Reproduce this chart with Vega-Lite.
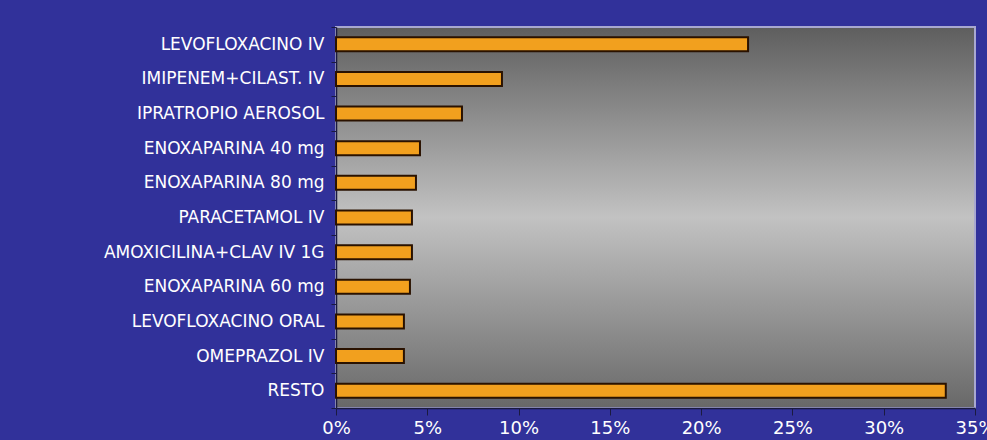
{
  "$schema": "https://vega.github.io/schema/vega-lite/v6.json",
  "width": 639,
  "height": 381,
  "autosize": {"type": "none"},
  "padding": {"left": 336, "top": 27, "right": 12, "bottom": 32},
  "background": "#31319A",
  "data": {
    "values": [
      {"farmaco": "LEVOFLOXACINO IV", "pct": 0.2257},
      {"farmaco": "IMIPENEM+CILAST. IV", "pct": 0.0909},
      {"farmaco": "IPRATROPIO AEROSOL", "pct": 0.069},
      {"farmaco": "ENOXAPARINA 40 mg", "pct": 0.046},
      {"farmaco": "ENOXAPARINA 80 mg", "pct": 0.0438},
      {"farmaco": "PARACETAMOL IV", "pct": 0.0416},
      {"farmaco": "AMOXICILINA+CLAV IV 1G", "pct": 0.0416},
      {"farmaco": "ENOXAPARINA 60 mg", "pct": 0.0405},
      {"farmaco": "LEVOFLOXACINO ORAL", "pct": 0.0372},
      {"farmaco": "OMEPRAZOL IV", "pct": 0.0372},
      {"farmaco": "RESTO", "pct": 0.334}
    ]
  },
  "mark": {"type": "bar", "color": "#F2A01E", "stroke": "#2A1200", "strokeWidth": 2, "height": 14},
  "encoding": {
    "y": {
      "field": "farmaco", "type": "nominal", "sort": null, "title": null,
      "scale": {"paddingInner": 0, "paddingOuter": 0},
      "axis": {"tickBand": "extent", "tickSize": 5, "labelPadding": 7, "labelLimit": 0, "labelFontSize": 17, "labelColor": "#FFFFFF", "labelFont": "DejaVu Sans", "domainColor": "#1A1A40", "tickColor": "#1A1A40", "domainWidth": 1.5}
    },
    "x": {
      "field": "pct", "type": "quantitative", "title": null,
      "scale": {"domain": [0, 0.35], "nice": false},
      "axis": {"format": ".0%", "values": [0, 0.05, 0.1, 0.15, 0.2, 0.25, 0.3, 0.35], "grid": false, "tickSize": 7, "labelPadding": 4, "labelFontSize": 18, "labelColor": "#FFFFFF", "labelFont": "DejaVu Sans", "labelFlush": false, "domainColor": "#1A1A40", "tickColor": "#1A1A40", "domainWidth": 1.5}
    }
  },
  "config": {
    "view": {
      "fill": {"gradient": "linear", "x1": 0, "y1": 0, "x2": 0, "y2": 1, "stops": [
        {"offset": 0, "color": "#5E5E5E"},
        {"offset": 0.5, "color": "#C2C2C2"},
        {"offset": 1, "color": "#686868"}
      ]},
      "stroke": "#A8A8D0",
      "strokeWidth": 2
    }
  }
}
